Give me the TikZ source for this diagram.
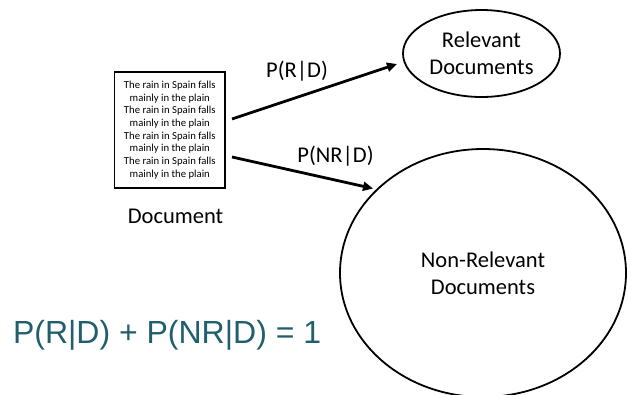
\documentclass[tikz,border=0pt]{standalone}
\usepackage{fontspec}
\setmainfont{Carlito}
\newfontfamily\eqfont{Liberation Sans}
\usetikzlibrary{arrows.meta,shapes.geometric}
\definecolor{eqteal}{RGB}{33,94,110}
\tikzset{
  bigtext/.style={font=\fontsize{22.5}{27}\selectfont, align=center, inner sep=0pt},
  ellnode/.style={ellipse, draw, line width=1.8pt, inner sep=0pt, bigtext},
  docbox/.style={draw, line width=1.8pt, inner sep=0pt, align=center,
    font=\fontsize{10.7}{12.65}\selectfont},
  probarrow/.style={line width=2.8pt, -{Triangle[length=10pt,width=9pt]}},
  lbl/.style={font=\fontsize{22.5}{27}\selectfont, inner sep=0pt, anchor=base}
}
\begin{document}
\begin{tikzpicture}[x=1pt,y=-1pt]
\useasboundingbox (0,0) rectangle (627,394);
% document box
\node[docbox, minimum width=110.5pt, minimum height=116pt] (doc) at (169.8,130)
  {The rain in Spain falls\\mainly in the plain\\The rain in Spain falls\\mainly in the plain\\The rain in Spain falls\\mainly in the plain\\The rain in Spain falls\\mainly in the plain};
\node[lbl] (doclabel) at (175.5,223) {Document};
% ellipses
\node[ellnode, minimum width=157pt, minimum height=87pt] (rel) at (481.5,53.5) {Relevant\\Documents};
\node[ellnode, minimum width=286pt, minimum height=248pt] (nonrel) at (483,273) {Non-Relevant\\Documents};
% arrows
\coordinate (s1) at (232,119);
\coordinate (e1) at (397,64);
\coordinate (s2) at (232,157);
\coordinate (e2) at (373,188.5);
\draw[probarrow] (s1) -- (e1);
\draw[probarrow] (s2) -- (e2);
\node[lbl] (prd) at (297,77) {P(R|D)};
\node[lbl] (pnrd) at (335.5,162) {P(NR|D)};
% equation
\node[anchor=base west, inner sep=0pt, text=eqteal, font=\eqfont\fontsize{32}{36}\selectfont] (eq) at (12.8,343) {P(R|D) + P(NR|D) = 1};
\end{tikzpicture}
\end{document}
